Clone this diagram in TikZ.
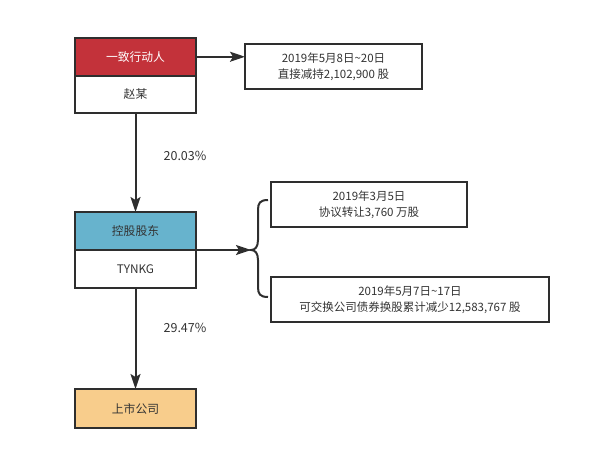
\documentclass[tikz,border=0pt]{standalone}
\usepackage{fontspec}
\setmainfont{Noto Sans CJK SC}
\usetikzlibrary{arrows.meta}
\definecolor{linec}{HTML}{2E2E2E}
\definecolor{textc}{HTML}{333333}
\definecolor{redh}{HTML}{C3323A}
\definecolor{blueh}{HTML}{67B3CD}
\definecolor{orangeh}{HTML}{F8CD8C}
\tikzset{
  box/.style={draw=linec, line width=2pt, rectangle, inner sep=0pt, outer sep=0pt, text=textc, font=\fontsize{11.8}{16.5}\selectfont, align=center, minimum width=121pt},
  infobox/.style={draw=linec, line width=2pt, rectangle, inner sep=0pt, outer sep=0pt, text=textc, font=\fontsize{11.5}{16.5}\selectfont, align=center},
  conn/.style={draw=linec, line width=2pt, -{Stealth[length=15pt,width=10pt,inset=3pt]}},
  lbl/.style={text=textc, font=\fontsize{12.5}{14}\selectfont}
}
\begin{document}
\begin{tikzpicture}[x=1pt,y=-1pt]
\useasboundingbox (0,0) rectangle (596,451);
% top entity
\node[box, fill=redh, text=white, minimum height=37.5pt, anchor=north west] (h1) at (75,38) {一致行动人};
\node[box, fill=white, minimum height=37.5pt, anchor=north west] (b1) at (75,75.5) {赵某};
% controlling shareholder
\node[box, fill=blueh, minimum height=38pt, anchor=north west] (h2) at (75,212) {控股股东};
\node[box, fill=white, minimum height=37.5pt, anchor=north west] (b2) at (75,250) {TYNKG};
% listed company
\node[box, fill=orangeh, minimum height=39pt, anchor=north west] (c3) at (75,389) {上市公司};
% info boxes
\node[infobox, minimum width=177pt, minimum height=45pt, anchor=north west] (i1) at (245,44) {2019年5月8日\textasciitilde20日\\直接减持2,102,900 股};
\node[infobox, minimum width=196pt, minimum height=45pt, anchor=north west] (i2) at (271,182) {2019年3月5日\\协议转让3,760 万股};
\node[infobox, minimum width=278pt, minimum height=45pt, anchor=north west] (i3) at (271,277) {2019年5月7日\textasciitilde17日\\可交换公司债券换股累计减少12,583,767 股};
% connectors
\draw[conn] (h1.east) -- (i1.west |- h1.east);
\draw[conn] (b1.south) -- (h2.north);
\draw[conn] (b2.south) -- (c3.north);
\coordinate (bt) at (251,250);
\draw[conn] (b2.north east) -- (bt);
% brace
\draw[draw=linec, line width=2pt] (268,200) .. controls (260,200) and (258,203) .. (258,210) -- (258,240) .. controls (258,247) and (255,250) .. (bt) .. controls (255,250) and (258,253) .. (258,260) -- (258,287) .. controls (258,294) and (260,297) .. (268,297);
% labels
\node[lbl] (l1) at (185,156) {20.03\%};
\node[lbl] (l2) at (185,328) {29.47\%};
\end{tikzpicture}
\end{document}
